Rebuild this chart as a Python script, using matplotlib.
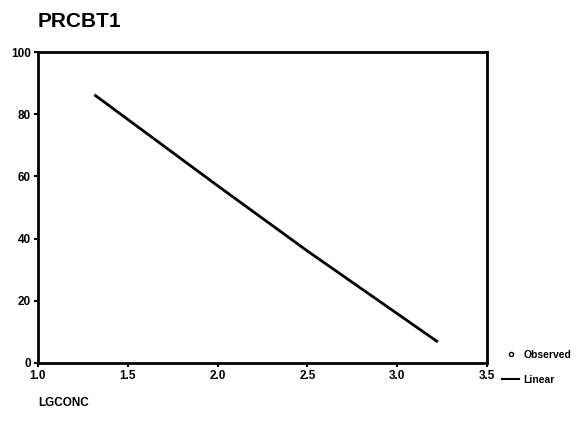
import matplotlib
matplotlib.use('Agg')
import matplotlib.pyplot as plt
from matplotlib.lines import Line2D

plt.rcParams['font.family'] = ['Liberation Sans', 'DejaVu Sans']

# Linear fit line
lgconc = [1.32, 2.0, 2.5, 3.22]
prcbt1 = [86, 57, 36, 7]

x_ticks = [1.0, 1.5, 2.0, 2.5, 3.0, 3.5]
x_tick_labels = ['1.0', '1.5', '2.0', '2.5', '3.0', '3.5']
y_ticks = [0, 20, 40, 60, 80, 100]

fig = plt.figure(figsize=(5.79, 4.23), dpi=100)
ax = fig.add_axes([0.0656, 0.142, 0.7755, 0.735])

ax.plot(lgconc, prcbt1, color='black', linewidth=2)

ax.set_xlim(1.0, 3.5)
ax.set_ylim(0, 100)
ax.set_xticks(x_ticks)
ax.set_xticklabels(x_tick_labels)
ax.set_yticks(y_ticks)
for lbl in ax.get_xticklabels() + ax.get_yticklabels():
    lbl.set_fontweight('bold')
    lbl.set_fontsize(8.5)
ax.tick_params(direction='out', length=3, width=1.5, pad=2)
for s in ax.spines.values():
    s.set_linewidth(2)

fig.text(0.0656, 0.948, 'PRCBT1', fontsize=15, fontweight='bold', va='center')
fig.text(0.0656, 0.047, 'LGCONC', fontsize=8.5, fontweight='bold', va='center')

handles = [
    Line2D([], [], marker='o', markersize=3, markerfacecolor='white',
           markeredgecolor='black', linestyle='none'),
    Line2D([], [], color='black', linewidth=1.5),
]
fig.legend(handles, ['Observed', 'Linear'], loc='lower left',
           bbox_to_anchor=(0.857, 0.076), frameon=False,
           prop={'size': 7.5, 'weight': 'bold'}, handlelength=1.6,
           labelspacing=1.4, handletextpad=0.4, borderaxespad=0.2)

fig.savefig('out.png', dpi=100)
